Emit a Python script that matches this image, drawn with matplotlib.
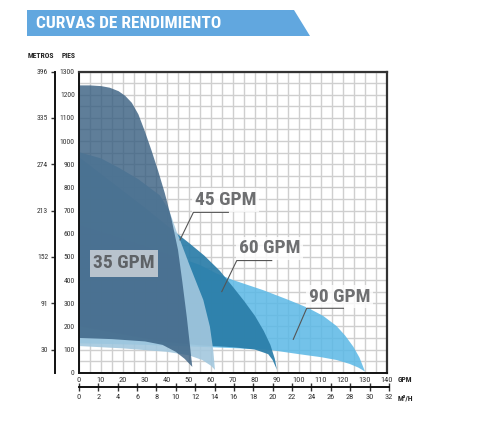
import numpy as np
import matplotlib.pyplot as plt
from matplotlib.patches import Polygon, Rectangle

plt.rcParams['font.family'] = ['Liberation Sans Narrow', 'Roboto Condensed', 'DejaVu Sans']
plt.rcParams['font.stretch'] = 'condensed'

# ejes
gpm_ticks = list(range(0, 141, 10))
m3h_ticks = list(range(0, 33, 2))
pies_ticks = list(range(0, 1301, 100))
metros_labels = [396, 335, 274, 213, 152, 91, 30]
metros_pos = [1300, 1100, 900, 700, 500, 300, 100]
GPM_PER_M3H = 4.4029

# curvas: caudal (GPM) y altura (pies), borde superior e inferior de cada banda
q35_top = [0, 5, 10, 14, 18, 21, 24, 27, 30, 33, 36, 39, 42, 45, 47, 49, 51.5]
h35_top = [1240, 1240, 1237, 1230, 1215, 1195, 1165, 1115, 1040, 958, 870, 775, 665, 530, 390, 240, 25]
q35_bot = [0, 15, 30, 38, 44, 48, 51.5]
h35_bot = [150, 145, 135, 120, 90, 60, 25]

q45_top = [0, 10, 18.6, 27, 36.8, 41, 44.4, 45.9, 50.5, 56.5, 59.5, 61, 61.8]
h45_top = [952, 925, 882, 835, 765, 700, 608, 573, 458, 314, 199, 98, 12]
q45_bot = [0, 20, 40, 50, 56, 60, 61.8]
h45_bot = [115, 105, 90, 75, 55, 30, 12]

q60_top = [0, 10, 20, 30, 40, 50, 57, 64, 70, 75, 80, 84, 87, 89, 90]
h60_top = [931, 858, 785, 712, 635, 560, 505, 440, 370, 310, 245, 180, 120, 60, 12]
q60_bot = [0, 20, 37, 55, 70, 80, 86, 88, 90]
h60_bot = [200, 165, 135, 118, 110, 100, 80, 55, 12]

q90_top = [0, 20, 40, 55, 62.6, 70, 83.8, 95, 104, 111, 117, 121, 124.7, 127.5, 130]
h90_top = [640, 580, 515, 465, 428, 400, 356, 315, 280, 245, 202, 160, 112, 65, 5]
q90_bot = [0, 30, 60, 75, 87, 100, 110, 117, 123, 127, 130]
h90_bot = [127, 120, 110, 104, 98, 80, 67, 55, 38, 22, 5]

bandas = [
    (q90_top, h90_top, q90_bot, h90_bot, '#5AB8E6', 0.85),
    (q60_top, h60_top, q60_bot, h60_bot, '#2A7DA8', 0.92),
    (q45_top, h45_top, q45_bot, h45_bot, '#A3C8DE', 0.9),
    (q35_top, h35_top, q35_bot, h35_bot, '#375E80', 0.8),
]

fig = plt.figure(figsize=(4.98, 4.38), dpi=100)

# fondo en pixeles para la cabecera
bg = fig.add_axes([0, 0, 1, 1])
bg.set_xlim(0, 498)
bg.set_ylim(438, 0)
bg.axis('off')
bg.add_patch(Polygon([(27, 10), (294, 10), (310, 36), (27, 36)], closed=True,
                     facecolor='#61A7DF', edgecolor='none'))
bg.text(36, 23.5, 'CURVAS DE RENDIMIENTO', color='white', fontsize=12.5,
        fontweight='bold', va='center', ha='left')
bg.text(28, 56, 'METROS', fontsize=5.5, fontweight='bold', va='center', color='#222222')
bg.text(62, 56, 'PIES', fontsize=5.5, fontweight='bold', va='center', color='#222222')
bg.text(398, 379, 'GPM', fontsize=5.5, fontweight='bold', va='center', color='#222222')
bg.text(398, 398, 'M³/H', fontsize=5.5, fontweight='bold', va='center', color='#222222')

L, R, T, B = 79, 387, 71.5, 372.7
W, H = 498, 438
ax = fig.add_axes([L / W, 1 - B / H, (R - L) / W, (B - T) / H])
ax.set_xlim(0, 140)
ax.set_ylim(0, 1300)
ax.set_xticks(gpm_ticks)
ax.set_yticks(pies_ticks)
ax.set_xticks(np.arange(0, 141, 5), minor=True)
ax.set_yticks(np.arange(0, 1301, 50), minor=True)
ax.grid(which='both', color='#CFCFCF', linewidth=1.0, zorder=0)
ax.set_axisbelow(True)
ax.tick_params(which='both', length=0)
ax.tick_params(axis='x', labelsize=6, pad=3, colors='#333333')
ax.tick_params(axis='y', labelsize=5.5, pad=3, colors='#333333')
for s in ['top', 'right']:
    ax.spines[s].set_color('#333333')
    ax.spines[s].set_linewidth(1.6)
for s in ['left', 'bottom']:
    ax.spines[s].set_color('#111111')
    ax.spines[s].set_linewidth(1.4)

for qt, ht, qb, hb, color, alpha in bandas:
    xs = list(qt) + list(qb[::-1])
    ys = list(ht) + list(hb[::-1])
    ax.fill(xs, ys, facecolor=color, alpha=alpha, edgecolor='none', zorder=2)

# etiquetas
ax.add_patch(Rectangle((5, 414), 30.8, 116, facecolor='#B8C3CD', edgecolor='none', zorder=4))
ax.text(20.4, 472, '35 GPM', fontsize=14, fontweight='bold', color='#5E6266',
        ha='center', va='center', zorder=5)

etiquetas = [
    ('45 GPM', 66.8, 745, [(67.9, 692), (52, 692), (45.9, 573)]),
    ('60 GPM', 86.8, 537, [(87.6, 484), (71.7, 484), (64.9, 350)]),
    ('90 GPM', 118.6, 328, [(120.2, 278), (103.5, 278), (97.4, 144)]),
]
for txt, x, y, linea in etiquetas:
    ax.text(x, y, txt, fontsize=14, fontweight='bold', color='#6E6F71',
            ha='center', va='center', zorder=5,
            bbox=dict(facecolor='white', alpha=0.8, edgecolor='none', pad=2))
    lx, ly = zip(*linea)
    ax.plot(lx, ly, color='#555555', linewidth=0.8, zorder=5)

# eje de metros
axm = fig.add_axes([55 / W, 1 - B / H, 0.0001, (B - T) / H])
axm.set_ylim(0, 1300)
axm.set_xticks([])
axm.set_yticks(metros_pos)
axm.set_yticklabels([str(v) for v in metros_labels])
axm.tick_params(axis='y', length=3, width=1, labelsize=5.5, pad=2, colors='#333333')
for s in ['top', 'right', 'bottom']:
    axm.spines[s].set_visible(False)
axm.spines['left'].set_linewidth(1.4)
axm.spines['left'].set_color('#111111')
axm.patch.set_visible(False)

# eje de m3/h
m3_width = 32 * GPM_PER_M3H * (R - L) / 140
axq = fig.add_axes([L / W, 1 - 387 / H, m3_width / W, 0.0001])
axq.set_xlim(0, 32)
axq.set_xticks(m3h_ticks)
axq.set_yticks([])
axq.tick_params(axis='x', direction='inout', length=6, width=1, labelsize=6, pad=2,
                colors='#333333')
for s in ['top', 'right', 'left']:
    axq.spines[s].set_visible(False)
axq.spines['bottom'].set_linewidth(1.4)
axq.spines['bottom'].set_color('#111111')
axq.patch.set_visible(False)

fig.savefig('out.png', dpi=100)
